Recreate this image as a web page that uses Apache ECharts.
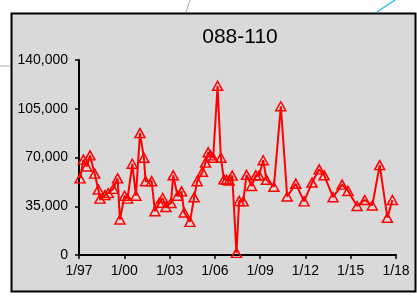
<!DOCTYPE html>
<html>
<head>
<meta charset="utf-8">
<script src="https://cdn.jsdelivr.net/npm/echarts@6/dist/echarts.min.js"></script>
<style>html,body{margin:0;padding:0;background:#fff;}#c{width:417px;height:296px;}</style>
</head>
<body>
<div id="c"></div>
<script>
var titleText = "088-110";
var years = [1997.07,1997.29,1997.51,1997.73,1998.04,1998.28,1998.39,1998.72,1998.94,1999.27,1999.56,1999.71,
2000.02,2000.22,2000.53,2000.77,2001.04,2001.30,2001.41,2001.81,2002.03,2002.32,2002.54,2002.76,
2003.09,2003.24,2003.53,2003.79,2003.97,2004.35,2004.63,2004.83,2005.18,2005.38,2005.56,2005.71,2005.89,
2006.18,2006.40,2006.60,2006.77,2006.95,2007.15,2007.43,2007.61,2007.88,2008.10,2008.43,2008.71,2008.93,
2009.20,2009.42,2009.91,2010.37,2010.79,2011.36,2011.91,2012.44,2012.91,2013.24,2013.83,2014.43,2014.82,
2015.42,2015.93,2016.43,2016.92,2017.43,2017.76];
var values = [55000,68500,63500,71500,58400,47000,40500,43000,44500,47500,55000,25500,
42500,40500,65500,42500,87500,69800,53000,53000,31400,37500,40900,34500,
37300,57200,42500,45700,30500,23800,41500,53000,59800,66300,73800,71500,69800,
121500,69800,54300,54000,53500,57000,1500,38800,38500,57500,49500,57200,57000,
68000,54000,49000,106800,42000,51200,38500,52000,61500,57200,41500,50500,46000,
35200,39500,35500,64500,26800,39500];
var yTicks = [0,35000,70000,105000,140000];
var xTickYears = [1997,2000,2003,2006,2009,2012,2015,2018];

var data = years.map(function(y,i){return [y, values[i]];});
var font = '"Liberation Sans", Arial, sans-serif';
var chart = echarts.init(document.getElementById('c'), null, {renderer:'canvas'});
chart.setOption({
  backgroundColor: '#ffffff',
  animation: false,
  graphic: [
    {type:'rect', z:-10, shape:{x:11.5,y:13.5,width:404,height:278}, style:{fill:'#d9d9d9', stroke:'#000', lineWidth:2}},
    {type:'line', z:-9, shape:{x1:14,y1:16,x2:414,y2:289}, style:{stroke:'#e2e2e2', lineWidth:0.7}},
    {type:'line', z:-9, shape:{x1:0,y1:66,x2:10,y2:66}, style:{stroke:'#aaaaaa', lineWidth:1}},
    {type:'line', z:-9, shape:{x1:190,y1:0,x2:186,y2:12}, style:{stroke:'#aaaaaa', lineWidth:1}},
    {type:'line', z:-9, shape:{x1:395,y1:0,x2:377,y2:12}, style:{stroke:'#33bbee', lineWidth:1.5}},
    {type:'text', style:{text:titleText, x:240, y:37, textAlign:'center', textVerticalAlign:'middle', font:'21px ' + font, fill:'#000'}}
  ],
  grid: {left:79, right:21, top:60, bottom:41, containLabel:false},
  xAxis: {
    type:'value', min:1997, max:2018, interval:3,
    axisLine:{show:true, onZero:false, lineStyle:{color:'#000', width:2}},
    axisTick:{show:true, length:4, inside:false, lineStyle:{color:'#000', width:1.5}},
    axisLabel:{margin:9, color:'#000', fontFamily:font, fontSize:14,
      formatter:function(v){return xTickYears.indexOf(v)>=0 ? '1/' + String(v).slice(2) : '';}},
    splitLine:{show:false}
  },
  yAxis: {
    type:'value', min:0, max:140000, interval:35000,
    axisLine:{show:true, lineStyle:{color:'#000', width:2}},
    axisTick:{show:true, length:4, inside:false, lineStyle:{color:'#000', width:1.5}},
    axisLabel:{margin:11, color:'#000', fontFamily:font, fontSize:14,
      formatter:function(v){return yTicks.indexOf(v)>=0 ? v.toLocaleString('en-US') : '';}},
    splitLine:{show:false}
  },
  series: [{
    type:'line', data:data,
    lineStyle:{color:'#ff0000', width:2},
    symbol:'triangle', symbolSize:[10,9],
    itemStyle:{color:'rgba(0,0,0,0)', borderColor:'#ff0000', borderWidth:1.5},
    showAllSymbol:true
  }]
});
</script>
</body>
</html>
